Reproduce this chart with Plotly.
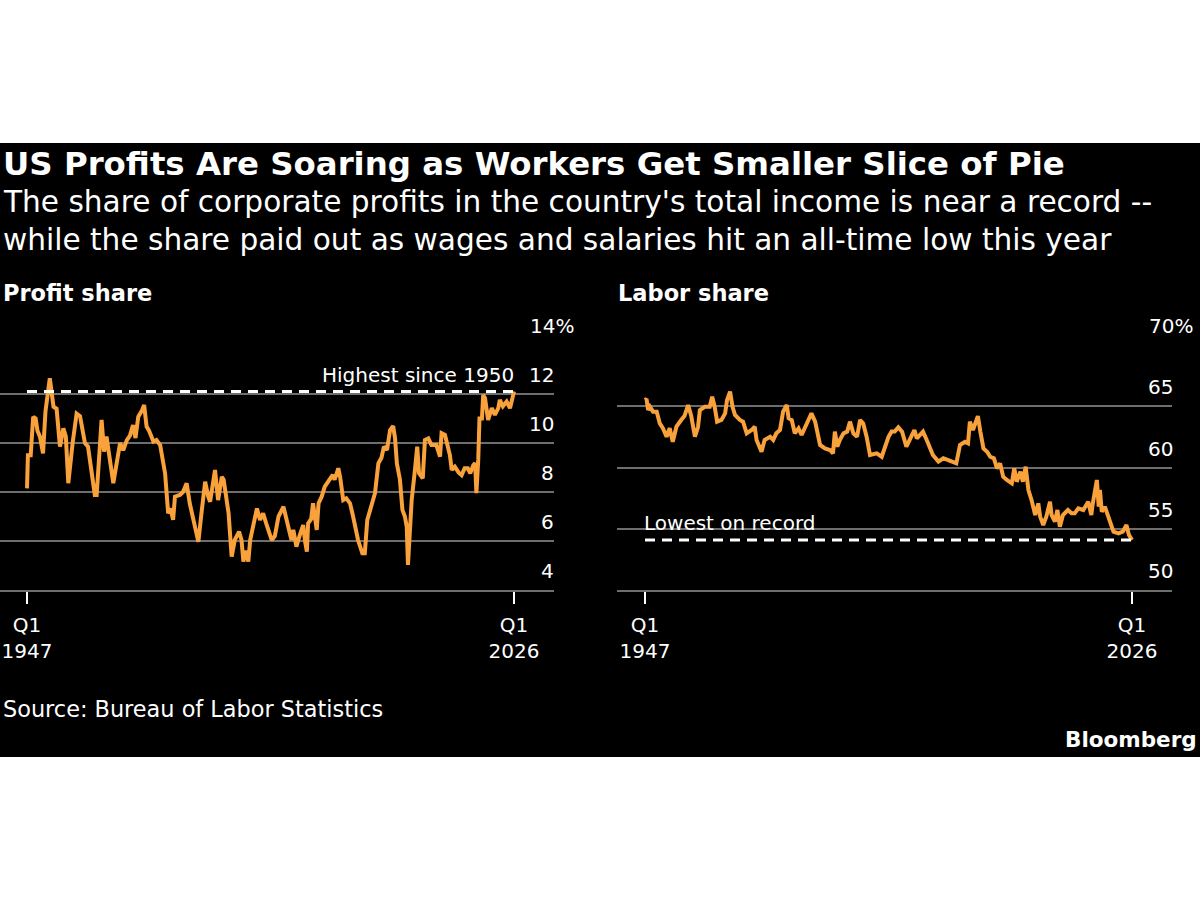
import plotly.graph_objects as go

# ---------------- data ----------------
profit_years = [1947.0, 1947.15, 1947.6, 1948.0, 1948.4, 1948.7, 1949.1, 1949.6, 1950.0, 1950.7,
                1951.3, 1951.8, 1952.35, 1952.9, 1953.3, 1953.7, 1954.4, 1955.05, 1955.6, 1956.4,
                1956.9, 1958.0, 1958.3, 1959.1, 1959.5, 1959.9, 1961.0, 1962.1, 1962.6, 1963.2,
                1963.7, 1964.2, 1964.6, 1965.05, 1965.6, 1966.0, 1966.4, 1966.8, 1967.5, 1968.0,
                1968.6, 1969.4, 1969.9, 1970.3, 1970.7, 1971.0, 1971.8, 1972.3, 1972.9, 1973.4,
                1974.0, 1974.8, 1975.3, 1975.9, 1976.4, 1976.7, 1977.5, 1978.0, 1978.6, 1978.9,
                1979.7, 1980.2, 1980.7, 1981.4, 1981.8, 1982.1, 1982.5, 1982.9, 1983.2, 1983.7,
                1984.3, 1984.8, 1985.3, 1985.8, 1986.7, 1987.2, 1987.8, 1988.6, 1989.4, 1989.9,
                1990.2, 1990.7, 1991.2, 1991.8, 1992.1, 1992.4, 1992.6, 1993.1, 1993.4, 1994.0,
                1994.3, 1994.8, 1995.3, 1996.1, 1996.6, 1996.9, 1997.5, 1997.8, 1998.3, 1998.8,
                1999.4, 1999.9, 2000.7, 2001.4, 2001.8, 2002.2, 2002.9, 2003.45, 2004.0, 2004.5,
                2004.9, 2005.4, 2005.9, 2006.4, 2006.7, 2007.0, 2007.5, 2007.9, 2008.3, 2008.6,
                2008.8, 2009.4, 2009.9, 2010.3, 2010.6, 2011.2, 2011.55, 2012.1, 2012.6, 2013.4,
                2014.0, 2014.25, 2014.8, 2015.6, 2015.9, 2016.4, 2017.0, 2017.5, 2018.0, 2018.5,
                2018.9, 2019.4, 2019.7, 2019.9, 2020.2, 2020.4, 2020.8, 2021.0, 2021.3, 2021.8,
                2022.4, 2022.9, 2023.45, 2023.7, 2024.2, 2024.8, 2025.35, 2025.7, 2026.0]
profit_share = [8.15, 9.5, 9.5, 11.07, 11.0, 10.5, 10.26, 9.58, 11.3, 12.64,
                11.48, 11.4, 9.85, 10.6, 10.26, 8.36, 10.0, 11.2, 11.1, 10.0,
                9.85, 7.88, 7.88, 10.94, 9.65, 10.26, 8.36, 10.0, 9.7, 10.12,
                10.3, 10.73, 10.2, 11.07, 11.3, 11.55, 10.67, 10.5, 10.06, 10.12,
                9.92, 8.76, 7.13, 7.33, 6.86, 7.81, 7.88, 8.0, 8.36, 7.54,
                6.86, 5.97, 7.13, 8.42, 7.81, 7.6, 8.9, 7.67, 8.62, 8.5,
                7.13, 5.36, 6.04, 6.38, 6.04, 5.16, 5.6, 5.16, 6.04, 6.72,
                7.33, 6.86, 7.13, 6.72, 6.04, 6.2, 7.0, 7.4, 6.58, 6.04,
                6.45, 5.77, 6.2, 6.65, 6.0, 5.56, 6.72, 6.9, 7.54, 6.45,
                7.54, 7.81, 8.22, 8.56, 8.7, 8.5, 8.97, 8.6, 7.67, 7.74,
                7.54, 7.0, 6.04, 5.5, 5.5, 6.86, 7.54, 7.95, 9.17, 9.4,
                9.85, 9.72, 10.53, 10.69, 10.2, 9.17, 8.5, 7.27, 7.0, 6.58,
                5.02, 7.67, 8.83, 9.85, 8.76, 8.56, 10.12, 10.19, 9.92, 9.92,
                9.44, 10.4, 10.33, 9.51, 8.9, 9.03, 8.8, 8.69, 8.97, 8.97,
                8.76, 9.1, 9.17, 7.95, 9.31, 11.0, 11.0, 11.96, 11.83, 10.94,
                11.42, 11.15, 11.42, 11.76, 11.5, 11.69, 11.42, 11.76, 12.1]

labor_years = [1947.0, 1947.25, 1947.5, 1947.8, 1948.3, 1948.9, 1949.4, 1949.9, 1950.5, 1951.0,
               1951.5, 1952.1, 1952.9, 1953.4, 1954.0, 1954.5, 1955.1, 1955.6, 1955.9, 1956.7,
               1957.5, 1957.9, 1958.3, 1958.7, 1959.4, 1960.0, 1960.3, 1960.8, 1961.2, 1961.6,
               1962.4, 1962.9, 1963.5, 1964.3, 1964.8, 1965.1, 1965.9, 1966.4, 1967.3, 1967.8,
               1968.3, 1968.9, 1969.4, 1970.0, 1970.3, 1970.8, 1971.3, 1971.9, 1972.4, 1973.2,
               1974.0, 1974.6, 1975.4, 1976.2, 1977.0, 1977.5, 1977.8, 1978.2, 1978.6, 1979.2,
               1979.8, 1980.25, 1980.8, 1981.4, 1981.9, 1982.4, 1982.95, 1983.5, 1984.6, 1985.4,
               1985.9, 1986.5, 1987.0, 1987.5, 1988.1, 1988.7, 1989.4, 1989.9, 1990.7, 1991.1,
               1991.6, 1992.1, 1992.7, 1993.2, 1993.7, 1994.6, 1995.4, 1996.2, 1997.0, 1997.5,
               1998.1, 1998.9, 1999.4, 1999.7, 2000.2, 2001.0, 2001.4, 2001.9, 2002.5, 2003.0,
               2003.6, 2004.1, 2004.6, 2005.1, 2005.7, 2006.5, 2006.9, 2007.3, 2007.9, 2008.3,
               2008.75, 2009.2, 2009.7, 2010.3, 2010.8, 2011.1, 2011.6, 2012.1, 2012.7, 2012.95,
               2013.5, 2013.9, 2014.3, 2014.8, 2015.6, 2016.2, 2016.7, 2017.3, 2018.1, 2018.9,
               2019.4, 2019.6, 2020.3, 2020.6, 2020.8, 2021.1, 2021.6, 2022.4, 2023.0, 2023.8,
               2024.5, 2025.1, 2025.5, 2026.0]
labor_share = [65.5, 65.6, 64.69, 64.96, 64.56, 64.56, 63.6, 63.2, 62.51, 63.2,
               62.1, 63.33, 63.9, 64.2, 65.1, 64.2, 62.51, 63.3, 64.69, 64.96,
               64.96, 65.78, 64.96, 63.74, 63.88, 64.42, 65.5, 66.19, 64.96, 64.29,
               63.88, 63.74, 62.79, 63.06, 63.33, 62.24, 61.29, 62.24, 62.51, 62.24,
               62.79, 63.06, 64.56, 65.1, 64.02, 63.88, 62.79, 63.2, 62.65, 63.6,
               64.42, 63.74, 61.84, 61.56, 61.43, 61.16, 62.93, 61.7, 62.24, 62.79,
               62.93, 63.74, 62.79, 62.51, 63.88, 63.6, 62.51, 61.02, 61.16, 60.88,
               61.7, 62.51, 62.93, 62.93, 63.28, 62.93, 61.7, 62.24, 63.06, 62.38,
               62.65, 62.93, 62.24, 61.7, 61.02, 60.48, 60.75, 60.61, 60.48, 60.34,
               61.84, 62.1, 61.97, 63.74, 63.06, 64.2, 62.93, 61.56, 61.29, 60.88,
               60.75, 59.93, 60.34, 59.25, 58.98, 58.71, 59.93, 58.84, 59.66, 58.84,
               60.07, 58.16, 57.35, 56.12, 57.07, 55.99, 55.31, 55.99, 57.21, 56.12,
               55.58, 56.53, 55.17, 56.12, 56.53, 56.26, 56.26, 56.67, 56.53, 57.21,
               56.12, 56.94, 58.98, 56.8, 58.16, 56.39, 56.8, 55.58, 54.76, 54.62,
               54.76, 55.31, 54.5, 54.08]

profit_ticks = [4, 6, 8, 10, 12, 14]
labor_ticks = [50, 55, 60, 65, 70]
x_tick_vals = [1947, 2026]
x_tick_text = ["Q1<br>1947", "Q1<br>2026"]
profit_ref = 12.1      # "Highest since 1950"
labor_ref = 54.08      # "Lowest on record"
ref_span = [1947.0, 2026.1]

title = "US Profits Are Soaring as Workers Get Smaller Slice of Pie"
subtitle1 = "The share of corporate profits in the country's total income is near a record --"
subtitle2 = "while the share paid out as wages and salaries hit an all-time low this year"

# ---------------- styling ----------------
W, H = 1200, 900
FONT = "DejaVu Sans, Verdana, sans-serif"
ORANGE = "#F9A13A"
GRID = "#6E6E6E"
WHITE = "#FFFFFF"
TICK_SIZE = 20
PCT_W = 20  # approx. pixel width of the hanging "%" sign


def px(x):
    return x / W


def py(y):
    return 1 - y / H


fig = go.Figure()

fig.add_trace(go.Scatter(x=profit_years, y=profit_share, mode="lines",
                         line=dict(color=ORANGE, width=4), xaxis="x", yaxis="y",
                         hoverinfo="skip"))
fig.add_trace(go.Scatter(x=ref_span, y=[profit_ref, profit_ref], mode="lines",
                         line=dict(color=WHITE, width=3, dash="10px,7px"), xaxis="x", yaxis="y",
                         hoverinfo="skip"))
fig.add_trace(go.Scatter(x=labor_years, y=labor_share, mode="lines",
                         line=dict(color=ORANGE, width=4), xaxis="x2", yaxis="y2",
                         hoverinfo="skip"))
fig.add_trace(go.Scatter(x=ref_span, y=[labor_ref, labor_ref], mode="lines",
                         line=dict(color=WHITE, width=3, dash="10px,7px"), xaxis="x2", yaxis="y2",
                         hoverinfo="skip"))

ydom = [py(590), py(345)]
common_x = dict(tickvals=x_tick_vals, ticktext=x_tick_text, ticks="outside", ticklen=12,
                tickwidth=1.5, tickcolor=WHITE, showgrid=False, zeroline=False,
                showline=True, linecolor=GRID, linewidth=1.5, ticklabelstandoff=4,
                tickfont=dict(family=FONT, size=TICK_SIZE, color=WHITE))
common_y = dict(showgrid=True, gridcolor=GRID, gridwidth=1.5, zeroline=False,
                showticklabels=False, ticks="", showline=False)

fig.update_layout(
    width=W, height=H,
    margin=dict(l=0, r=0, t=0, b=0),
    paper_bgcolor="white", plot_bgcolor="black",
    showlegend=False,
    xaxis=dict(domain=[0, px(554)], range=[1942.62, 2032.489], anchor="y", **common_x),
    yaxis=dict(domain=ydom, range=[4, 14], tickvals=profit_ticks, anchor="x", **common_y),
    xaxis2=dict(domain=[px(617), px(1172)], range=[1942.458, 2032.489], anchor="y2", **common_x),
    yaxis2=dict(domain=ydom, range=[50, 70], tickvals=labor_ticks, anchor="x2", **common_y),
    shapes=[dict(type="rect", xref="paper", yref="paper", x0=0, x1=1,
                 y0=py(757), y1=py(143), fillcolor="black", line=dict(width=0), layer="below")],
)

ann = []


def text(x, y, s, size, bold=False, xanchor="left", **kw):
    ann.append(dict(x=px(x), y=py(y), xref="paper", yref="paper", text=f"<b>{s}</b>" if bold else s,
                    showarrow=False, xanchor=xanchor, yanchor="middle",
                    font=dict(family=FONT, size=size, color=WHITE), **kw))


text(1, 164, title, 32.4, bold=True)
text(1, 202, subtitle1, 29.6)
text(1, 240, subtitle2, 29.6)
text(1, 293, "Profit share", 22.5, bold=True)
text(616, 293, "Labor share", 22.5, bold=True)
text(1, 709, "Source: Bureau of Labor Statistics", 22.4)
text(1199, 739, "Bloomberg", 21.5, bold=True, xanchor="right")


def ylabels(ticks, xpix, yref):
    top = ticks[-1]
    for v in ticks:
        lab = f"{v}%" if v == top else str(v)
        shift = 3 + (PCT_W if v == top else 0)
        ann.append(dict(x=px(xpix), y=v, xref="paper", yref=yref, text=lab, showarrow=False,
                        xanchor="right", yanchor="middle", yshift=19, xshift=shift,
                        font=dict(family=FONT, size=TICK_SIZE, color=WHITE)))


ylabels(profit_ticks, 553, "y")
ylabels(labor_ticks, 1172, "y2")

# reference-line notes
ann.append(dict(x=ref_span[1], y=profit_ref, xref="x", yref="y", text="Highest since 1950",
                showarrow=False, xanchor="right", yanchor="middle", yshift=17, xshift=1,
                font=dict(family=FONT, size=TICK_SIZE, color=WHITE)))
ann.append(dict(x=ref_span[0], y=labor_ref, xref="x2", yref="y2", text="Lowest on record",
                showarrow=False, xanchor="left", yanchor="middle", yshift=17, xshift=-3,
                font=dict(family=FONT, size=TICK_SIZE, color=WHITE)))

fig.update_layout(annotations=ann)
fig.write_html("out.html")
